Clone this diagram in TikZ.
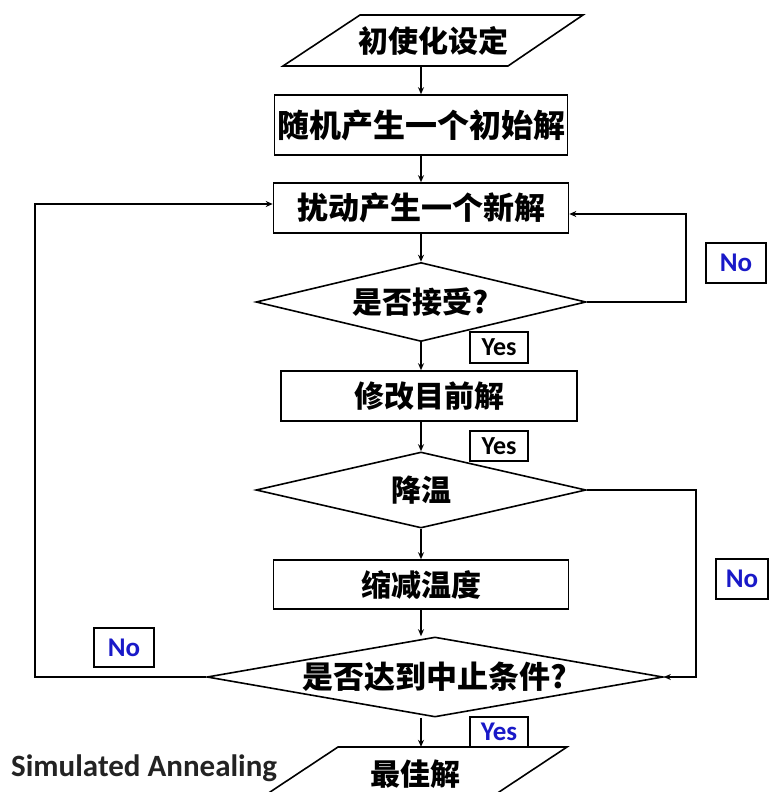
\documentclass[tikz,border=0pt]{standalone}
\usepackage{fontspec}
\usetikzlibrary{shapes.geometric,arrows.meta}
\newfontfamily\cjk{Noto Sans CJK SC}
\newfontfamily\calf{Carlito}
\definecolor{lblblue}{RGB}{25,25,200}
\definecolor{captgray}{RGB}{35,35,35}
\tikzset{
  ln/.style={line width=1.6pt},
  arr/.style={ln,-{Stealth[length=7pt,width=6pt]}},
  fs/.style={font=\cjk\bfseries\fontsize{#1}{#1}\selectfont},
  proc/.style={draw,ln,rectangle,inner sep=0pt},
  dec/.style={draw,ln,diamond,inner sep=0pt},
  tag/.style={draw,line width=1.3pt,inner sep=0pt,fill=white},
  tagfont/.style={font=\calf\bfseries\fontsize{26}{30}\selectfont},
  tagbold/.style={font=\calf\bfseries\fontsize{27}{30}\selectfont,text=lblblue},
}
\begin{document}
\begin{tikzpicture}[x=1pt,y=-1pt]
\useasboundingbox (0,0) rectangle (769,792);
% top parallelogram
\draw[ln] (283,66) -- (508,66) -- (583,15) -- (360,15) -- cycle;
\node[fs=30, minimum height=51, inner sep=0pt] (p1) at (433,40.5) {初使化设定};
% process boxes
\node[proc, fs=32, minimum width=293, minimum height=60] (b1) at (421,125) {随机产生一个初始解};
\node[proc, fs=31, minimum width=295, minimum height=50] (b2) at (421,208) {扰动产生一个新解};
\node[dec, minimum width=330, minimum height=79, label={[fs=30]center:是否接受?}] (d1) at (421,302) {};
\node[proc, fs=30, minimum width=296, minimum height=50] (b3) at (429,396) {修改目前解};
\node[dec, minimum width=330, minimum height=76, label={[fs=30]center:降温}] (d2) at (421,490) {};
\node[proc, fs=30, minimum width=295, minimum height=49] (b4) at (421,584.5) {缩减温度};
\node[dec, minimum width=456, minimum height=80, label={[fs=31]center:是否达到中止条件?}] (d3) at (435,677) {};
% bottom parallelogram
\draw[ln] (338,747) -- (567,747) -- (490,798) -- (261,798) -- cycle;
\node[fs=30, minimum height=54, inner sep=0pt] (p2) at (415,774) {最佳解};
% caption
\node[anchor=west, inner sep=0pt, text=captgray, font=\calf\bfseries\fontsize{31}{34}\selectfont] (sa) at (11,768) {Simulated Annealing};
% connectors
\draw[arr] (p1.south -| b1.north) -- (b1.north);
\draw[arr] (b1) -- (b2);
\draw[arr] (b2) -- (d1);
\draw[arr] (d1) -- (b3.north -| d1.south);
\draw[arr] (b3.south -| d2.north) -- (d2);
\draw[arr] (d2) -- (b4);
\draw[arr] (b4.south) -- (b4.south |- d3.north);
\draw[arr] (d3.south -| b4.south) -- (p2.north -| b4.south);
\draw[arr] (d1.east) -- ++(99,0) |- ([yshift=-6pt]b2.east);
\draw[arr] (d2.east) -- ++(109,0) |- (d3.east);
\draw[arr] (d3.west) -- (35,677) |- ([yshift=4pt]b2.west);
% tags
\node[tag, tagbold, minimum width=60, minimum height=40] (no1) at (736,263) {No};
\node[tag, tagfont, minimum width=58, minimum height=31] (yes1) at (499,347.5) {Yes};
\node[tag, tagfont, minimum width=58, minimum height=30] (yes2) at (499,446) {Yes};
\node[tag, tagbold, minimum width=52, minimum height=40] (no2) at (742,579) {No};
\node[tag, tagbold, minimum width=60, minimum height=39] (no3) at (124,647.5) {No};
\node[tag, tagbold, minimum width=58, minimum height=30] (yes3) at (499,732) {Yes};
\end{tikzpicture}
\end{document}
